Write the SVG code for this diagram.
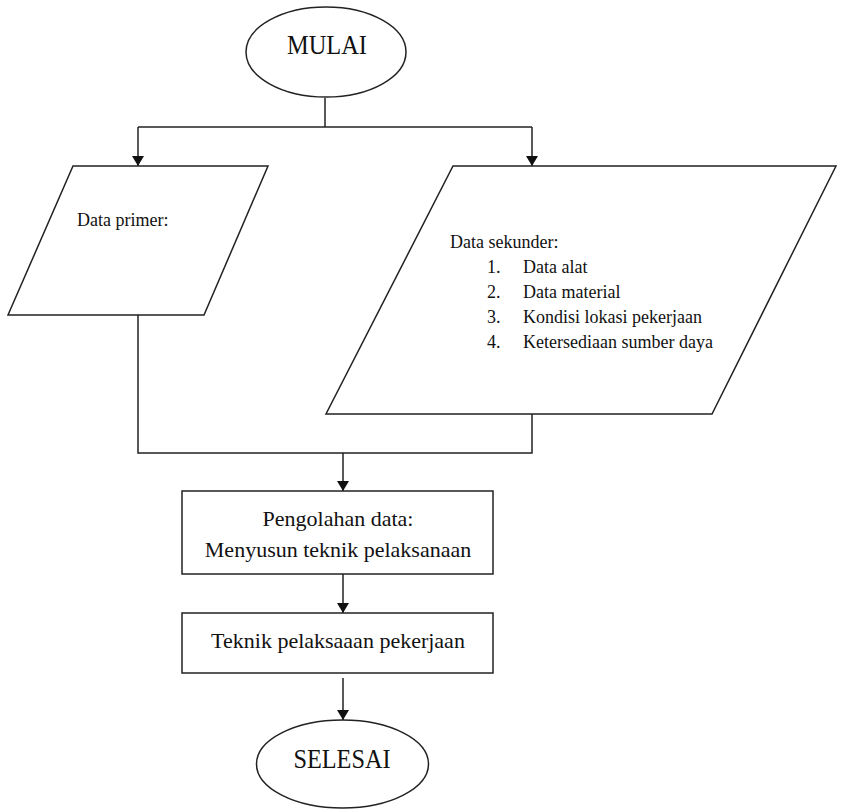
<svg xmlns="http://www.w3.org/2000/svg" width="847" height="809" viewBox="0 0 847 809">
<style>
.s{fill:#fff;stroke:#222;stroke-width:1.5}
.c{fill:none;stroke:#222;stroke-width:1.5}
.sm{font-size:18px}
.md{font-size:22px}
.lg{font-size:28px}
</style>
<defs>
<marker id="ah" markerWidth="10" markerHeight="12" refX="10" refY="6" orient="auto" markerUnits="userSpaceOnUse">
<path d="M0,0 L10,6 L0,12 Z" fill="#111"/>
</marker>
</defs>
<rect width="847" height="809" fill="#fff"/>
<g id="connectors">
<path class="c" d="M325,98 V127"/>
<path class="c" d="M138,127 H532"/>
<path class="c" d="M138,127 V166" marker-end="url(#ah)"/>
<path class="c" d="M532,127 V166" marker-end="url(#ah)"/>
<path class="c" d="M138,315 V453 H532 V414"/>
<path class="c" d="M343,453 V491" marker-end="url(#ah)"/>
<path class="c" d="M343,574 V613" marker-end="url(#ah)"/>
<path class="c" d="M343,678 V720" marker-end="url(#ah)"/>
</g>
<g font-family="'Liberation Serif', 'DejaVu Serif', serif" fill="#111">
<g id="mulai">
<ellipse class="s" cx="326" cy="52" rx="80" ry="45"/>
<text class="lg" x="327" y="54" text-anchor="middle" textLength="80" lengthAdjust="spacingAndGlyphs">MULAI</text>
</g>
<g id="data-primer">
<polygon class="s" points="73,166 268,166 204,315 8,315"/>
<text class="sm" x="77" y="226">Data primer:</text>
</g>
<g id="data-sekunder">
<polygon class="s" points="453,166 836,166 712,414 326,414"/>
<text class="sm" x="450" y="248">Data sekunder:</text>
<text class="sm" x="487" y="273">1.</text><text class="sm" x="523" y="273">Data alat</text>
<text class="sm" x="487" y="298">2.</text><text class="sm" x="523" y="298">Data material</text>
<text class="sm" x="487" y="323">3.</text><text class="sm" x="523" y="323">Kondisi lokasi pekerjaan</text>
<text class="sm" x="487" y="348">4.</text><text class="sm" x="523" y="348">Ketersediaan sumber daya</text>
</g>
<g id="pengolahan">
<rect class="s" x="182" y="491" width="311" height="83"/>
<text class="md" x="338" y="526" text-anchor="middle">Pengolahan data:</text>
<text class="md" x="338" y="557" text-anchor="middle">Menyusun teknik pelaksanaan</text>
</g>
<g id="teknik">
<rect class="s" x="182" y="613" width="311" height="60"/>
<text class="md" x="338" y="648" text-anchor="middle">Teknik pelaksaaan pekerjaan</text>
</g>
<g id="selesai">
<ellipse class="s" cx="342.5" cy="764" rx="86" ry="44"/>
<text class="lg" x="342" y="768" text-anchor="middle" textLength="97" lengthAdjust="spacingAndGlyphs">SELESAI</text>
</g>
</g>
</svg>
